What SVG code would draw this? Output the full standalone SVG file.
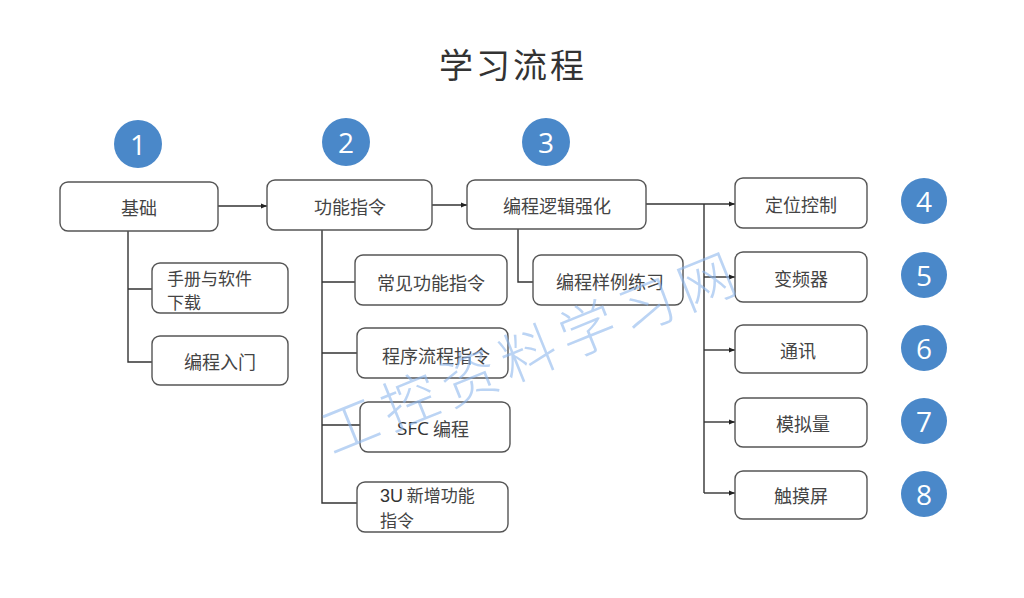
<svg xmlns="http://www.w3.org/2000/svg" width="1024" height="598" viewBox="0 0 1024 598">
<defs>
<marker id="arr" viewBox="0 0 10 10" refX="10" refY="5" markerWidth="6" markerHeight="6" orient="auto" markerUnits="userSpaceOnUse">
<path d="M0,1 L10,5 L0,9 z" fill="#222"/>
</marker>
<style>
.box{fill:#fff;stroke:#555;stroke-width:1.4}
.lbl{font-family:"Noto Sans CJK SC","Liberation Sans",sans-serif;font-size:18px;fill:#444;text-anchor:middle;dominant-baseline:central}
.lbl2{font-family:"Noto Sans CJK SC","Liberation Sans",sans-serif;font-size:17px;fill:#444}
.num{fill:#4a88c9}
.numt{font-family:"Open Sans","Liberation Sans",sans-serif;font-size:28px;fill:#fff;text-anchor:middle;dominant-baseline:central}
.ln{fill:none;stroke:#333;stroke-width:1.4}
.wm{font-family:"Noto Sans CJK SC",sans-serif;font-size:56px;font-weight:200;fill:#8fb8ee;opacity:0.6}
</style>
</defs>
<rect width="1024" height="598" fill="#fff"/>
<text x="513" y="63" font-family="Noto Sans CJK SC, sans-serif" font-size="34" fill="#333" text-anchor="middle" dominant-baseline="central" letter-spacing="3">学习流程</text>

<g id="connectors">
<path class="ln" d="M218,206 H267" marker-end="url(#arr)"/>
<path class="ln" d="M432,205 H467" marker-end="url(#arr)"/>
<path class="ln" d="M128,231 V362 H152 M128,289 H152"/>
<path class="ln" d="M322,230 V503 H357 M322,282 H355 M322,353 H357 M322,425 H360"/>
<path class="ln" d="M518,229 V282 H533"/>
<path class="ln" d="M646,204 H735" marker-end="url(#arr)"/>
<path class="ln" d="M704,204 V493"/>
<path class="ln" d="M704,277 H735" marker-end="url(#arr)"/>
<path class="ln" d="M704,350 H735" marker-end="url(#arr)"/>
<path class="ln" d="M704,422 H735" marker-end="url(#arr)"/>
<path class="ln" d="M704,493 H735" marker-end="url(#arr)"/>
</g>

<g id="n1"><circle class="num" cx="138" cy="144" r="24"/><text class="numt" x="138" y="144">1</text></g>
<g id="n2"><circle class="num" cx="346" cy="142" r="24"/><text class="numt" x="346" y="142">2</text></g>
<g id="n3"><circle class="num" cx="546" cy="142" r="24"/><text class="numt" x="546" y="142">3</text></g>
<g id="n4"><circle class="num" cx="924" cy="201" r="23"/><text class="numt" x="924" y="201">4</text></g>
<g id="n5"><circle class="num" cx="924" cy="275" r="23"/><text class="numt" x="924" y="275">5</text></g>
<g id="n6"><circle class="num" cx="924" cy="348" r="23"/><text class="numt" x="924" y="348">6</text></g>
<g id="n7"><circle class="num" cx="924" cy="421" r="23"/><text class="numt" x="924" y="421">7</text></g>
<g id="n8"><circle class="num" cx="924" cy="494" r="23"/><text class="numt" x="924" y="494">8</text></g>

<g id="jichu"><rect class="box" x="60" y="182" width="158" height="49" rx="8"/><text class="lbl" x="139" y="207">基础</text></g>
<g id="shouce"><rect class="box" x="152" y="263" width="136" height="50" rx="8"/><text class="lbl2" x="167" y="285">手册与软件</text><text class="lbl2" x="167" y="309">下载</text></g>
<g id="rumen"><rect class="box" x="152" y="336" width="136" height="49" rx="8"/><text class="lbl" x="220" y="361">编程入门</text></g>

<g id="gongneng"><rect class="box" x="267" y="180" width="165" height="50" rx="8"/><text class="lbl" x="350" y="206">功能指令</text></g>
<g id="changjian"><rect class="box" x="355" y="255" width="152" height="50" rx="8"/><text class="lbl" x="431" y="282">常见功能指令</text></g>
<g id="chengxu"><rect class="box" x="357" y="328" width="151" height="50" rx="8"/><text class="lbl" x="436" y="355">程序流程指令</text></g>
<g id="sfc"><rect class="box" x="360" y="402" width="150" height="50" rx="8"/><text class="lbl" x="433" y="428"><tspan font-family="Open Sans, Liberation Sans, sans-serif" font-size="19" fill="#333">SFC</tspan> 编程</text></g>
<g id="xinzeng"><rect class="box" x="357" y="482" width="151" height="50" rx="8"/><text class="lbl2" x="380" y="502"><tspan font-family="Liberation Sans, sans-serif" font-size="18" fill="#333">3U</tspan> 新增功能</text><text class="lbl2" x="380" y="527">指令</text></g>

<g id="luoji"><rect class="box" x="467" y="180" width="179" height="49" rx="8"/><text class="lbl" x="557" y="205">编程逻辑强化</text></g>
<g id="yangli"><rect class="box" x="533" y="255" width="150" height="50" rx="8"/><text class="lbl" x="610" y="281">编程样例练习</text></g>

<g id="dingwei"><rect class="box" x="735" y="178" width="132" height="50" rx="8"/><text class="lbl" x="801" y="204">定位控制</text></g>
<g id="bianpin"><rect class="box" x="735" y="252" width="132" height="50" rx="8"/><text class="lbl" x="801" y="278">变频器</text></g>
<g id="tongxun"><rect class="box" x="735" y="325" width="132" height="48" rx="8"/><text class="lbl" x="798" y="350">通讯</text></g>
<g id="moni"><rect class="box" x="735" y="398" width="132" height="49" rx="8"/><text class="lbl" x="803" y="423">模拟量</text></g>
<g id="chumo"><rect class="box" x="735" y="471" width="132" height="48" rx="8"/><text class="lbl" x="801" y="495">触摸屏</text></g>

<g id="watermark"><text class="wm" x="0" y="0" transform="translate(332,455) rotate(-22)" letter-spacing="8">工控资料学习网</text></g>
</svg>
